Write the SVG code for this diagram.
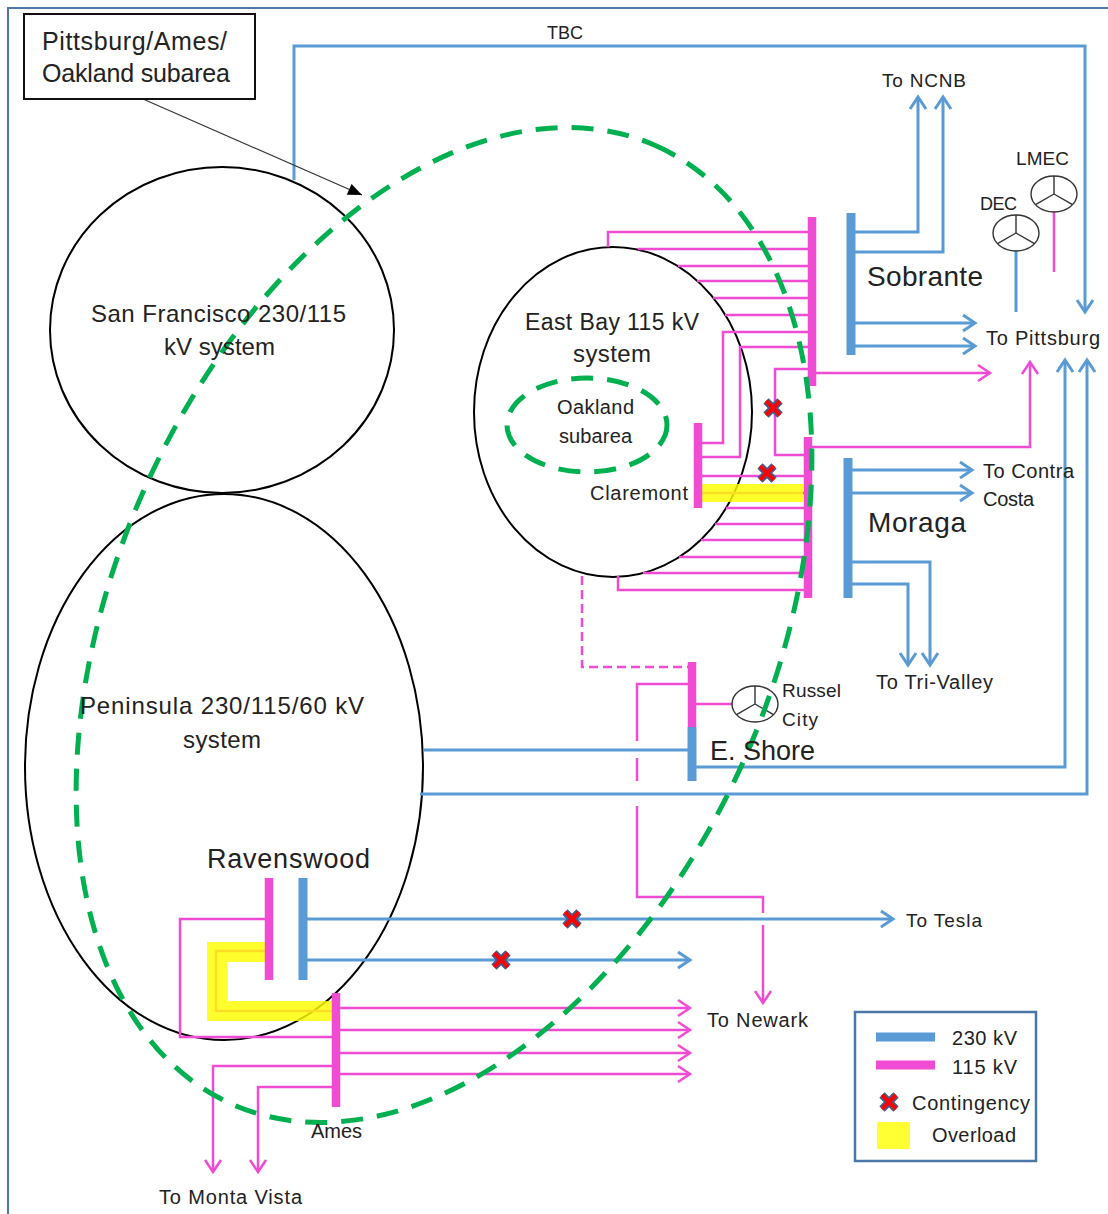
<svg xmlns="http://www.w3.org/2000/svg" xmlns:xlink="http://www.w3.org/1999/xlink" width="1108" height="1214" viewBox="0 0 1108 1214">
<style>
.t{font-family:"Liberation Sans",Arial,sans-serif;fill:#222;}
.b{fill:none;stroke:#5b9bd5;stroke-width:3;}
.p{fill:none;stroke:#f04bd3;stroke-width:2.5;}
.bb{stroke:#5b9bd5;stroke-width:9;}
.pb{stroke:#f04bd3;stroke-width:8.5;}
.ba{marker-end:url(#ab);}
.pa{marker-end:url(#ap);}
.circ{fill:none;stroke:#000;stroke-width:2;}
.xo{fill:none;stroke:#3f5f8c;stroke-width:7.5;stroke-linecap:butt;}
.xi{fill:none;stroke:#ff0000;stroke-width:4;}
.yl{fill:none;stroke:#ffff00;stroke-opacity:0.82;}
</style>
<defs>
<marker id="ab" markerUnits="userSpaceOnUse" markerWidth="16" markerHeight="20" refX="12" refY="8" orient="auto" overflow="visible">
<path d="M0,0 L12,8 L0,16" fill="none" stroke="#5b9bd5" stroke-width="3"/>
</marker>
<marker id="ap" markerUnits="userSpaceOnUse" markerWidth="16" markerHeight="20" refX="12" refY="8" orient="auto" overflow="visible">
<path d="M0,0 L12,8 L0,16" fill="none" stroke="#f04bd3" stroke-width="2.5"/>
</marker>
<marker id="ak" markerUnits="userSpaceOnUse" markerWidth="16" markerHeight="14" refX="14" refY="6" orient="auto" overflow="visible">
<path d="M0,0 L14,6 L0,12 Z" fill="#000"/>
</marker>
<g id="xm"><path class="xo" d="M-7,-7 L7,7 M7,-7 L-7,7"/><path class="xi" d="M-7,-7 L7,7 M7,-7 L-7,7"/></g>
<g id="gen"><ellipse rx="23" ry="18" fill="#fff" stroke="#333" stroke-width="1.4"/><path d="M0,0 V-18 M0,0 L-18.5,10.7 M0,0 L18.5,10.7" fill="none" stroke="#333" stroke-width="1.4"/></g>
</defs>
<rect width="1108" height="1214" fill="#fff"/>
<path d="M8,1214 V8 H1108" fill="none" stroke="#4d76a6" stroke-width="2"/>

<g id="sf-system"><ellipse class="circ" cx="222" cy="330" rx="172" ry="163"/></g>
<g id="peninsula-system"><ellipse class="circ" cx="224" cy="767" rx="199" ry="273"/></g>
<g id="eastbay-system"><ellipse class="circ" cx="613" cy="412" rx="139" ry="165"/></g>

<g id="connectors">
<path class="b ba" d="M294,180 V46 H1085 V312"/>
<path class="b ba" d="M851,232 H918 V97"/>
<path class="b ba" d="M851,252 H943 V97"/>
<path class="b ba" d="M851,323 H975"/>
<path class="b ba" d="M851,346 H975"/>
<path class="b" d="M1016,251 V312"/>
<path class="b ba" d="M848,470 H972"/>
<path class="b ba" d="M848,493 H972"/>
<path class="b ba" d="M848,562 H930 V665"/>
<path class="b ba" d="M848,584 H908 V665"/>
<path class="b" d="M423,750 H692"/>
<path class="b ba" d="M692,767 H1065 V360"/>
<path class="b ba" d="M420,794 H1087 V360"/>
<path class="b ba" d="M303,919 H893"/>
<path class="b ba" d="M303,960 H690"/>

<path class="p" d="M812,232 H608 V247"/>
<path class="p" d="M812,249 H638"/>
<path class="p" d="M812,266 H678"/>
<path class="p" d="M812,281 H697"/>
<path class="p" d="M812,298 H713"/>
<path class="p" d="M812,315 H725"/>
<path class="p" d="M812,332 H723 V443 H698"/>
<path class="p" d="M812,347 H740 V457 H698"/>
<path class="p" d="M812,369 H775 V455 H808"/>
<path class="p pa" d="M812,373 H990"/>
<path class="p pa" d="M808,447 H1030 V362"/>
<path class="p" d="M698,476 H808"/>
<path class="p" d="M698,493 H808"/>
<path class="p" d="M808,508 H726"/>
<path class="p" d="M808,524 H715"/>
<path class="p" d="M808,540 H701"/>
<path class="p" d="M808,557 H679"/>
<path class="p" d="M808,573 H643"/>
<path class="p" d="M808,590 H618 V576"/>
<path class="p" d="M582,576 V667 H692" stroke-dasharray="9 5"/>
<path class="p" d="M692,684 H637 V741 M637,758 V781 M637,806 V897 H763 V913"/>
<path class="p pa" d="M763,925 V1003"/>
<path class="p" d="M692,704 H732"/>
<path class="p" d="M1054,211 V272"/>
<path class="p" d="M269,919 H180 V1037 H336"/>
<path class="p" d="M269,951 H216 V1011 H336"/>
<path class="p pa" d="M336,1008 H690"/>
<path class="p pa" d="M336,1030 H690"/>
<path class="p pa" d="M336,1053 H690"/>
<path class="p pa" d="M336,1074 H690"/>
<path class="p pa" d="M336,1066 H213 V1172"/>
<path class="p pa" d="M336,1087 H258 V1172"/>
<path d="M143,99 L362,195" fill="none" stroke="#333" stroke-width="1.2" marker-end="url(#ak)"/>
</g>

<g id="overloads">
<path class="yl" stroke-width="18" d="M702,493 H803"/>
<path class="yl" stroke-width="20" d="M265,952 H217 V1011 H333"/>
</g>

<g id="bars">
<g id="sobrante"><line class="pb" x1="812" y1="217" x2="812" y2="386"/><line class="bb" x1="851" y1="213" x2="851" y2="355"/></g>
<g id="claremont"><line class="pb" x1="698" y1="423" x2="698" y2="508"/></g>
<g id="moraga"><line class="pb" x1="808" y1="437" x2="808" y2="598"/><line class="bb" x1="848" y1="458" x2="848" y2="598"/></g>
<g id="eshore"><line class="pb" x1="692" y1="662" x2="692" y2="727"/><line class="bb" x1="692" y1="727" x2="692" y2="781"/></g>
<g id="ravenswood"><line class="pb" x1="269" y1="878" x2="269" y2="980"/><line class="bb" x1="303" y1="878" x2="303" y2="980"/></g>
<g id="ames"><line class="pb" x1="336" y1="993" x2="336" y2="1107"/></g>
</g>

<g id="generators">
<g id="dec"><use xlink:href="#gen" x="1016" y="233"/></g>
<g id="lmec"><use xlink:href="#gen" x="1054" y="194"/></g>
<g id="russel-city"><use xlink:href="#gen" x="755" y="704"/></g>
</g>

<g id="subareas" fill="none" stroke="#00b050" stroke-width="5" stroke-dasharray="22 14">
<ellipse cx="0" cy="0" rx="524" ry="329" transform="translate(444,625) rotate(-66.2)"/>
<ellipse cx="587" cy="425" rx="80" ry="47"/>
</g>

<g id="contingencies">
<use xlink:href="#xm" x="773" y="408"/>
<use xlink:href="#xm" x="767" y="473"/>
<use xlink:href="#xm" x="572" y="919"/>
<use xlink:href="#xm" x="501" y="960"/>
</g>

<g id="callout">
<rect x="24" y="14" width="231" height="85" fill="#fff" stroke="#111" stroke-width="2"/>
<text class="t" x="42" y="50" font-size="25" textLength="185">Pittsburg/Ames/</text>
<text class="t" x="42" y="82" font-size="25" textLength="188">Oakland subarea</text>
</g>

<g id="labels">
<text class="t" x="547" y="39" font-size="18" textLength="36">TBC</text>
<text class="t" x="882" y="87" font-size="19" textLength="84">To NCNB</text>
<text class="t" x="1016" y="165" font-size="19" textLength="53">LMEC</text>
<text class="t" x="980" y="210" font-size="18" textLength="37">DEC</text>
<text class="t" x="867" y="286" font-size="28" textLength="116">Sobrante</text>
<text class="t" x="986" y="345" font-size="20" textLength="114">To Pittsburg</text>
<text class="t" x="525" y="330" font-size="23" textLength="174">East Bay 115 kV</text>
<text class="t" x="573" y="362" font-size="24" textLength="78">system</text>
<text class="t" x="557" y="414" font-size="20" textLength="77">Oakland</text>
<text class="t" x="559" y="443" font-size="20" textLength="73">subarea</text>
<text class="t" x="590" y="500" font-size="20" textLength="98">Claremont</text>
<text class="t" x="983" y="478" font-size="20" textLength="91">To Contra</text>
<text class="t" x="983" y="506" font-size="20" textLength="51">Costa</text>
<text class="t" x="868" y="532" font-size="28" textLength="98">Moraga</text>
<text class="t" x="876" y="689" font-size="20" textLength="117">To Tri-Valley</text>
<text class="t" x="91" y="322" font-size="24" textLength="255">San Francisco 230/115</text>
<text class="t" x="164" y="355" font-size="24" textLength="111">kV system</text>
<text class="t" x="80" y="714" font-size="24" textLength="284">Peninsula 230/115/60 kV</text>
<text class="t" x="183" y="748" font-size="24" textLength="78">system</text>
<text class="t" x="782" y="697" font-size="19" textLength="59">Russel</text>
<text class="t" x="782" y="726" font-size="19" textLength="36">City</text>
<text class="t" x="710" y="760" font-size="27" textLength="105">E. Shore</text>
<text class="t" x="207" y="868" font-size="27" textLength="163">Ravenswood</text>
<text class="t" x="906" y="927" font-size="19" textLength="76">To Tesla</text>
<text class="t" x="707" y="1027" font-size="20" textLength="101">To Newark</text>
<text class="t" x="311" y="1138" font-size="20" textLength="51">Ames</text>
<text class="t" x="159" y="1204" font-size="20" textLength="143">To Monta Vista</text>
</g>

<g id="legend">
<rect x="855" y="1012" width="181" height="149" fill="none" stroke="#4a76a8" stroke-width="2.5"/>
<line x1="876" y1="1037" x2="935" y2="1037" stroke="#5b9bd5" stroke-width="9"/>
<line x1="876" y1="1065" x2="935" y2="1065" stroke="#f04bd3" stroke-width="9"/>
<text class="t" x="952" y="1045" font-size="20" textLength="65">230 kV</text>
<text class="t" x="952" y="1074" font-size="20" textLength="65">115 kV</text>
<use xlink:href="#xm" x="889" y="1102"/>
<text class="t" x="912" y="1110" font-size="20" textLength="118">Contingency</text>
<rect x="877" y="1122" width="33" height="27" fill="#ffff33"/>
<text class="t" x="932" y="1142" font-size="20" textLength="84">Overload</text>
</g>
</svg>
